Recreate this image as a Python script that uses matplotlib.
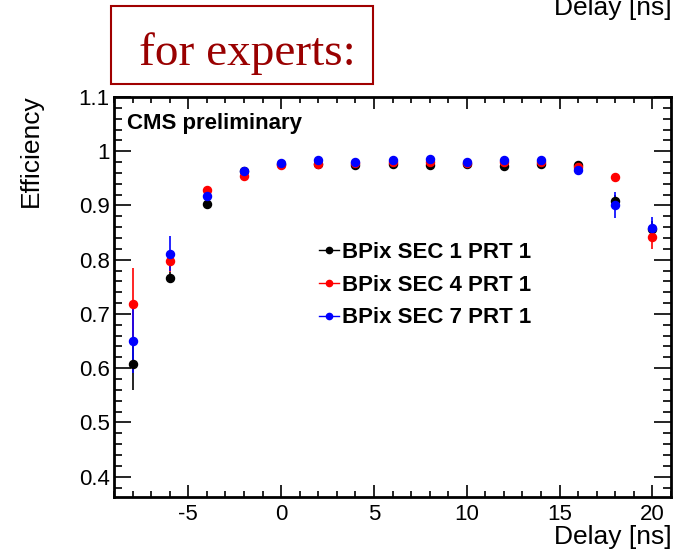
import matplotlib
matplotlib.use('Agg')
import matplotlib.pyplot as plt
from matplotlib.patches import Rectangle
from matplotlib.lines import Line2D
from matplotlib.ticker import MultipleLocator

plt.rcParams['font.family'] = ['Liberation Sans', 'DejaVu Sans']
plt.rcParams['axes.unicode_minus'] = False

delay = [-8, -6, -4, -2, 0, 2, 4, 6, 8, 10, 12, 14, 16, 18, 20]

eff_sec1 = [0.607, 0.767, 0.903, 0.964, 0.976, 0.976, 0.975, 0.976, 0.974, 0.976, 0.972, 0.976, 0.974, 0.908, 0.857]
err_sec1 = [0.047, 0.010, 0.005, 0.003, 0.003, 0.003, 0.003, 0.003, 0.003, 0.003, 0.003, 0.003, 0.008, 0.012, 0.015]

eff_sec4 = [0.718, 0.798, 0.928, 0.954, 0.974, 0.977, 0.978, 0.980, 0.981, 0.979, 0.980, 0.980, 0.971, 0.952, 0.842]
err_sec4 = [0.066, 0.020, 0.005, 0.003, 0.003, 0.003, 0.003, 0.003, 0.003, 0.003, 0.003, 0.003, 0.005, 0.005, 0.023]

eff_sec7 = [0.651, 0.811, 0.918, 0.964, 0.979, 0.983, 0.980, 0.984, 0.985, 0.980, 0.983, 0.983, 0.965, 0.900, 0.858]
err_sec7 = [0.060, 0.032, 0.005, 0.003, 0.003, 0.003, 0.003, 0.003, 0.003, 0.003, 0.003, 0.003, 0.005, 0.024, 0.020]

labels = ['BPix SEC 1 PRT 1', 'BPix SEC 4 PRT 1', 'BPix SEC 7 PRT 1']
colors = ['black', 'red', 'blue']

fig = plt.figure(figsize=(6.8, 5.51), dpi=100)
ax = fig.add_axes([114 / 680, 54 / 551, 557 / 680, 400 / 551])

for eff, err, col in zip([eff_sec1, eff_sec4, eff_sec7], [err_sec1, err_sec4, err_sec7], colors):
    ax.errorbar(delay, eff, yerr=err, fmt='o', color=col, ms=5.8, elinewidth=1.2, capsize=0)

ax.set_xlim(-9, 21)
ax.set_ylim(0.3625, 1.1)
ax.xaxis.set_major_locator(MultipleLocator(5))
ax.xaxis.set_minor_locator(MultipleLocator(1))
ax.yaxis.set_minor_locator(MultipleLocator(0.02))
ax.set_yticks([0.4, 0.5, 0.6, 0.7, 0.8, 0.9, 1.0, 1.1])
ax.set_yticklabels(['0.4', '0.5', '0.6', '0.7', '0.8', '0.9', '1', '1.1'])

ax.tick_params(axis='both', which='both', direction='in', top=True, right=True, labelsize=16, width=1.2)
ax.tick_params(axis='x', which='major', length=8.5, pad=5)
ax.tick_params(axis='x', which='minor', length=4.3)
ax.tick_params(axis='y', which='major', length=12, pad=3)
ax.tick_params(axis='y', which='minor', length=6)
for sp in ax.spines.values():
    sp.set_linewidth(2)

ax.text(0.023, 0.935, 'CMS preliminary', transform=ax.transAxes, fontsize=16,
        fontweight='bold', va='center', ha='left')

handles = [Line2D([0], [0], color=c, marker='o', ms=4.5, lw=1) for c in colors]
leg = ax.legend(handles, labels, loc='upper left', bbox_to_anchor=(0.368, 0.638), frameon=False,
                prop={'size': 16, 'weight': 'bold'}, handlelength=0.9, handletextpad=0.15,
                labelspacing=0.53, borderaxespad=0, borderpad=0)

fig.text(672 / 680, 1 - 544 / 551, 'Delay [ns]', ha='right', va='baseline', fontsize=19)
fig.text(672 / 680, 1 - 15 / 551, 'Delay [ns]', ha='right', va='baseline', fontsize=19)
fig.text(31 / 680, 1 - 94 / 551, 'Efficiency', ha='center', va='top', rotation=90, fontsize=19)

fig.patches.append(Rectangle((111 / 680, 1 - 84 / 551), 262 / 680, 78 / 551,
                             transform=fig.transFigure, fill=False, edgecolor='#a00000', lw=1.5))
fig.text(247 / 680, 1 - 65 / 551, 'for experts:', ha='center', va='baseline', fontsize=34,
         color='#990000', family='Liberation Serif')

fig.savefig('out.png', dpi=100)
